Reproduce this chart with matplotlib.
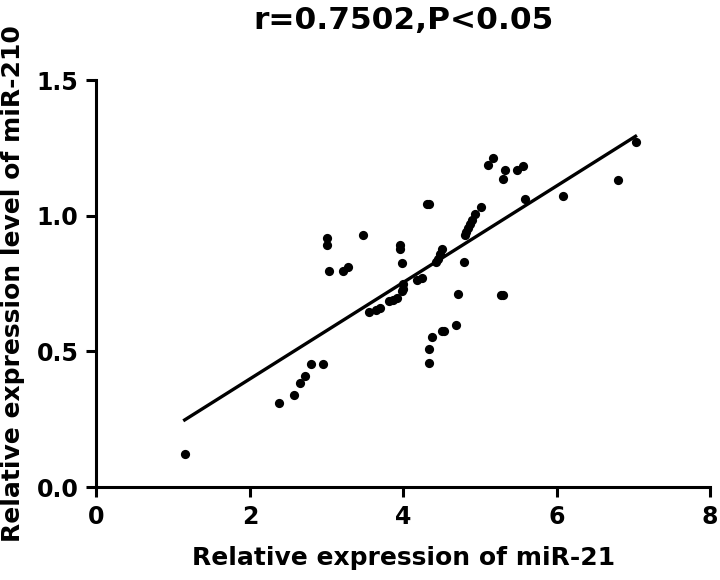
import numpy as np
import matplotlib
matplotlib.use("Agg")
import matplotlib.pyplot as plt

# values
mir21 = [1.15, 2.38, 2.58, 2.66, 2.72, 2.80, 2.96, 3.00, 3.00, 3.03,
         3.21, 3.28, 3.47, 3.55, 3.65, 3.70, 3.81, 3.87, 3.92, 3.99,
         4.00, 4.00, 3.96, 3.96, 3.99, 4.18, 4.24, 4.31, 4.33, 4.33,
         4.34, 4.38, 4.50, 4.53, 4.43, 4.45, 4.48, 4.50, 4.69, 4.71,
         4.79, 4.80, 4.82, 4.85, 4.87, 4.90, 4.93, 5.01, 5.10, 5.17,
         5.27, 5.30, 5.30, 5.33, 5.48, 5.56, 5.59, 6.09, 6.80, 7.03]
mir210 = [0.122, 0.312, 0.339, 0.385, 0.408, 0.455, 0.455, 0.919, 0.891, 0.795,
          0.797, 0.811, 0.928, 0.647, 0.654, 0.660, 0.687, 0.691, 0.697, 0.721,
          0.732, 0.748, 0.891, 0.879, 0.825, 0.762, 0.769, 1.045, 1.045, 0.458,
          0.510, 0.553, 0.575, 0.577, 0.830, 0.842, 0.858, 0.876, 0.599, 0.711,
          0.828, 0.929, 0.940, 0.956, 0.968, 0.986, 1.005, 1.033, 1.186, 1.213,
          0.709, 0.709, 1.136, 1.167, 1.167, 1.184, 1.060, 1.072, 1.130, 1.270]

title = "r=0.7502,P<0.05"
xlabel = "Relative expression of miR-21"
ylabel = "Relative expression level of miR-210"

plt.rcParams['font.family'] = ['DejaVu Sans']
plt.rcParams['font.weight'] = 'bold'

fig = plt.figure(figsize=(7.2, 5.8), dpi=100)
ax = fig.add_axes([0.134, 0.16, 0.852, 0.702])

x = np.array(mir21)
y = np.array(mir210)
ax.scatter(x, y, s=44, color='black', zorder=3, linewidths=0)

# linear fit over the data range
slope, intercept = np.polyfit(x, y, 1)
xs = np.array([x.min(), x.max()])
ax.plot(xs, slope * xs + intercept, color='black', linewidth=2.4)

ax.set_xlim(0, 8)
ax.set_ylim(0, 1.5)
ax.set_xticks([0, 2, 4, 6, 8])
ax.set_yticks([0.0, 0.5, 1.0, 1.5])
ax.set_yticklabels(["0.0", "0.5", "1.0", "1.5"])

for side in ['top', 'right']:
    ax.spines[side].set_visible(False)
for side in ['left', 'bottom']:
    ax.spines[side].set_linewidth(2.2)

ax.tick_params(axis='both', direction='out', length=7, width=2.2,
               labelsize=17, pad=6)
for lab in ax.get_xticklabels() + ax.get_yticklabels():
    lab.set_fontweight('bold')

ax.set_title(title, fontsize=22.5, fontweight='bold', pad=37)
ax.set_xlabel(xlabel, fontsize=18, fontweight='bold', labelpad=12)
ax.set_ylabel(ylabel, fontsize=18, fontweight='bold', labelpad=8)

fig.savefig("out.png", dpi=100)
